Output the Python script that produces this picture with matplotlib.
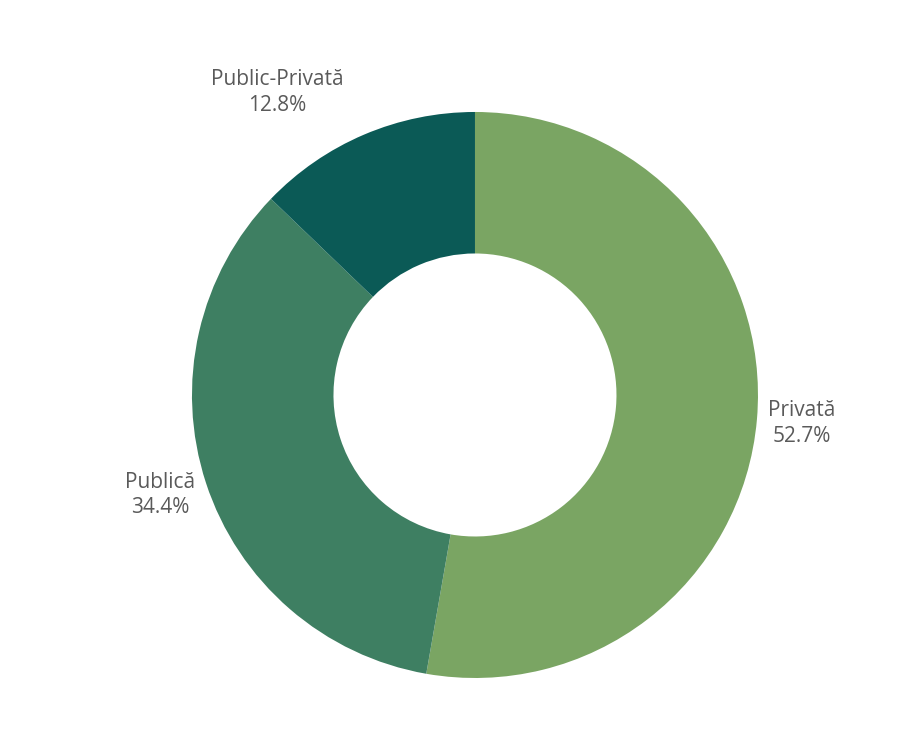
import numpy as np
import matplotlib
matplotlib.use("Agg")
from matplotlib import pyplot as plt

labels = ["Privată", "Publică", "Public-Privată"]
shares = [52.7, 34.4, 12.8]
colors = ["#7aa563", "#3e7f62", "#0b5a56"]

plt.rcParams['font.family'] = ['Open Sans', 'DejaVu Sans']

fig = plt.figure(figsize=(9, 7.53), dpi=100)
ax = fig.add_axes([0.2133, 0.0996, 0.6289, 0.7517])

wedges, _ = ax.pie(shares, colors=colors, startangle=90, counterclock=False,
                   radius=1.0, wedgeprops=dict(width=0.5, linewidth=0))
ax.set_xlim(-1, 1)
ax.set_ylim(-1, 1)
ax.set_aspect("equal")
ax.axis("off")

# label placement outside the ring
dist = [1.04, 1.04, 1.1]
for w, lab, val, d in zip(wedges, labels, shares, dist):
    ang = np.deg2rad((w.theta1 + w.theta2) / 2)
    x, y = d * np.cos(ang), d * np.sin(ang)
    ha = "left" if x > 0 else "right"
    va = "center"
    if y > 0.5:
        # top label sits above the ring, centred
        x, y, ha, va = -0.70, 0.985, "center", "bottom"
    elif y < -0.2:
        y -= 0.03
    else:
        y -= 0.01
    ax.text(x, y, f"{lab}\n{val}%", ha=ha, va=va, fontsize=15,
            color="#5a5a5a", linespacing=1.3, multialignment="center")

fig.savefig("out.png", dpi=100, facecolor="white")
